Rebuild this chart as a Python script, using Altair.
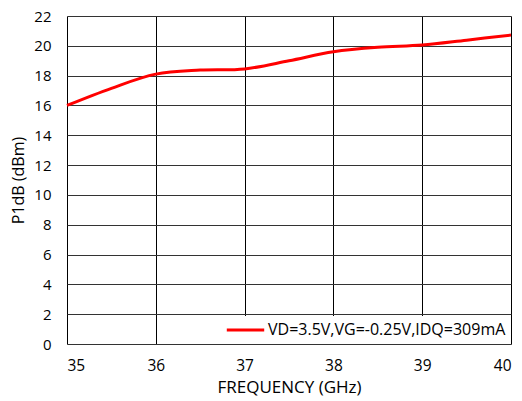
import altair as alt
import pandas as pd

freq = [35, 35.5, 36, 36.5, 37, 37.5, 38, 38.5, 39, 39.5, 40]
p1db = [16.0, 17.15, 18.1, 18.37, 18.45, 19.0, 19.6, 19.9, 20.05, 20.38, 20.72]
series_name = "VD=3.5V,VG=-0.25V,IDQ=309mA"

df = pd.DataFrame({"freq": freq, "p1db": p1db, "series": [series_name] * len(freq)})

FONT = "Open Sans"

chart = alt.Chart(df).mark_line(strokeWidth=3, interpolate="catmull-rom").encode(
    x=alt.X("freq:Q",
            scale=alt.Scale(domain=[35, 40], nice=False, zero=False),
            axis=alt.Axis(title="FREQUENCY (GHz)", values=[35, 36, 37, 38, 39, 40],
                          grid=True, gridColor="#000000", gridOpacity=1, gridWidth=1,
                          ticks=False, domain=False, labelPadding=14, titlePadding=6,
                          labelFontSize=15.5, titleFontSize=17, labelColor="#000", titleColor="#000",
                          labelFont=FONT, titleFont=FONT, titleFontWeight="normal")),
    y=alt.Y("p1db:Q",
            scale=alt.Scale(domain=[0, 22], nice=False),
            axis=alt.Axis(title="P1dB (dBm)", values=list(range(0, 23, 2)),
                          grid=True, gridColor="#333333", gridOpacity=1, gridWidth=1,
                          ticks=False, domain=False, labelPadding=16, titlePadding=7,
                          labelFontSize=15, titleFontSize=16, labelColor="#000", titleColor="#000",
                          labelFont=FONT, titleFont=FONT, titleFontWeight="normal")),
    color=alt.Color("series:N",
                    scale=alt.Scale(range=["#ff0000"]),
                    legend=alt.Legend(title=None, orient="bottom-right", offset=0,
                                      fillColor="white", padding=5,
                                      symbolType="stroke", symbolSize=1400,
                                      symbolStrokeWidth=3, labelFontSize=16,
                                      clipHeight=18, labelLimit=400,
                                      labelFont=FONT, labelColor="#000", labelOffset=2,
                                      zindex=1)),
).properties(
    width=444, height=328,
    autosize=alt.AutoSizeParams(type="none"),
    padding={"left": 59, "top": 8, "right": 3, "bottom": 56},
).configure_view(
    stroke="#444444", strokeWidth=1.5
).configure(background="white")

chart.save("out.html", embed_options={"renderer": "svg", "actions": False})
